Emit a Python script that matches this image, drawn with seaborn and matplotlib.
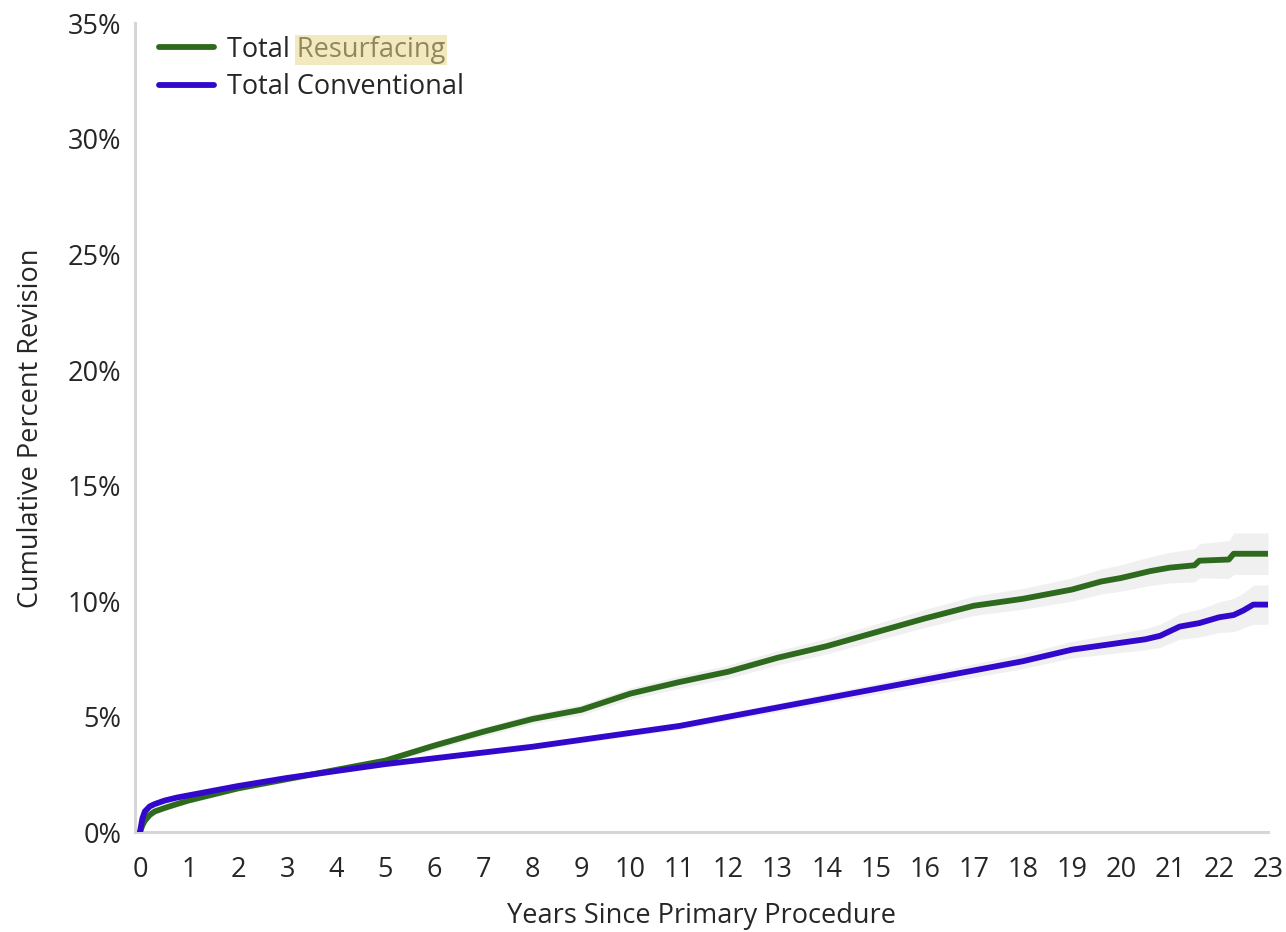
import numpy as np
import pandas as pd
import matplotlib
matplotlib.use("Agg")
import matplotlib.pyplot as plt
import seaborn as sns
from matplotlib.patches import Rectangle

# Cumulative percent revision by years since primary procedure
years_resurf = [0, 0.05, 0.1, 0.2, 0.3, 0.5, 0.75, 1, 2, 3, 4, 5, 6, 7, 8, 9, 10, 11, 12, 13,
                14, 15, 16, 17, 18, 19, 19.6, 20, 20.6, 21, 21.5, 21.6, 22.2, 22.3, 23]
pct_resurf = [0, 0.3, 0.5, 0.75, 0.9, 1.05, 1.22, 1.38, 1.9, 2.3, 2.7, 3.1, 3.75, 4.35, 4.9,
              5.3, 6.0, 6.5, 6.95, 7.55, 8.05, 8.65, 9.25, 9.8, 10.1, 10.5, 10.85, 11.0,
              11.3, 11.45, 11.55, 11.75, 11.8, 12.05, 12.05]
ci_resurf = [0, 0.05, 0.08, 0.1, 0.12, 0.12, 0.12, 0.12, 0.12, 0.13, 0.14, 0.15, 0.17, 0.19,
             0.21, 0.23, 0.25, 0.27, 0.29, 0.31, 0.33, 0.36, 0.39, 0.42, 0.45, 0.5, 0.54,
             0.57, 0.62, 0.66, 0.72, 0.74, 0.82, 0.9, 0.9]

years_conv = [0, 0.05, 0.1, 0.2, 0.3, 0.5, 0.75, 1, 2, 3, 4, 5, 6, 7, 8, 9, 10, 11, 12, 13,
              14, 15, 16, 17, 18, 19, 20, 20.5, 20.8, 21.2, 21.6, 22, 22.3, 22.5, 22.7, 23]
pct_conv = [0, 0.6, 0.9, 1.12, 1.22, 1.37, 1.5, 1.6, 2.0, 2.35, 2.65, 2.95, 3.2, 3.45, 3.7,
            4.0, 4.3, 4.6, 5.0, 5.4, 5.8, 6.2, 6.6, 7.0, 7.4, 7.9, 8.2, 8.35, 8.5, 8.9, 9.05,
            9.3, 9.4, 9.6, 9.85, 9.85]
ci_conv = [0, 0.04, 0.06, 0.07, 0.08, 0.08, 0.08, 0.08, 0.08, 0.08, 0.08, 0.09, 0.1, 0.11,
           0.12, 0.13, 0.14, 0.15, 0.17, 0.19, 0.21, 0.23, 0.26, 0.29, 0.32, 0.36, 0.42,
           0.46, 0.5, 0.55, 0.6, 0.66, 0.72, 0.76, 0.85, 0.85]

series_names = ["Total Resurfacing", "Total Conventional"]
series_colors = ["#2e6a1e", "#3108cc"]

x_ticks = list(range(0, 24))
y_ticks = [0, 5, 10, 15, 20, 25, 30, 35]

df = pd.concat([
    pd.DataFrame({"Years": years_resurf, "Pct": pct_resurf, "CI": ci_resurf,
                  "Group": series_names[0]}),
    pd.DataFrame({"Years": years_conv, "Pct": pct_conv, "CI": ci_conv,
                  "Group": series_names[1]}),
], ignore_index=True)

sns.set_theme(style="white")
FONT = ["Open Sans", "DejaVu Sans"]
plt.rcParams["font.family"] = FONT
FS = 19.5
TXT = "#262626"

fig = plt.figure(figsize=(12.86, 9.32), dpi=100)
ax = fig.add_axes([0.105, 0.107, 0.881, 0.868])

# confidence bands
for name in series_names:
    sub = df[df["Group"] == name]
    ax.fill_between(sub["Years"], sub["Pct"] - sub["CI"], sub["Pct"] + sub["CI"],
                    color="#f0f0f0", linewidth=0, zorder=1)

sns.lineplot(data=df, x="Years", y="Pct", hue="Group", hue_order=series_names,
             palette=series_colors, linewidth=4.2, errorbar=None, ax=ax, zorder=3)

ax.set_xlim(-0.1, 23.0)
ax.set_ylim(0, 35)
ax.set_xticks(x_ticks)
ax.set_xticklabels([str(t) for t in x_ticks])
ax.set_yticks(y_ticks)
ax.set_yticklabels([f"{t}%" for t in y_ticks])
ax.tick_params(axis="both", labelsize=FS, colors=TXT, length=0)
ax.tick_params(axis="y", pad=10)
ax.tick_params(axis="x", pad=17)

for s in ["top", "right"]:
    ax.spines[s].set_visible(False)
for s in ["left", "bottom"]:
    ax.spines[s].set_color("#d6d6d6")
    ax.spines[s].set_linewidth(2.2)

ax.set_xlabel("Years Since Primary Procedure", fontsize=FS, color=TXT, labelpad=13)
ax.set_ylabel("Cumulative Percent Revision", fontsize=FS, color=TXT, labelpad=16)

leg = ax.legend(loc="upper left", bbox_to_anchor=(0.0, 1.015), frameon=False, fontsize=FS,
                handlelength=2.0, handletextpad=0.5, labelspacing=0.35, borderaxespad=0.5,
                borderpad=0.4)
for line in leg.get_lines():
    line.set_linewidth(4.2)
for t in leg.get_texts():
    t.set_color(TXT)

# highlight on the word "Resurfacing"
fig.canvas.draw()
renderer = fig.canvas.get_renderer()
label = leg.get_texts()[0]
bb = label.get_window_extent(renderer)
probe = fig.text(0, 0, "Total ", fontsize=FS, family=FONT)
w_prefix = probe.get_window_extent(renderer).width
probe.remove()
hl = Rectangle((bb.x0 + w_prefix - 2, bb.y0 - 1), bb.x1 - bb.x0 - w_prefix + 4, bb.height + 2,
               transform=None, facecolor="#e8d88a", alpha=0.55, edgecolor="none", zorder=10)
fig.patches.append(hl)

fig.savefig("out.png", dpi=100)
